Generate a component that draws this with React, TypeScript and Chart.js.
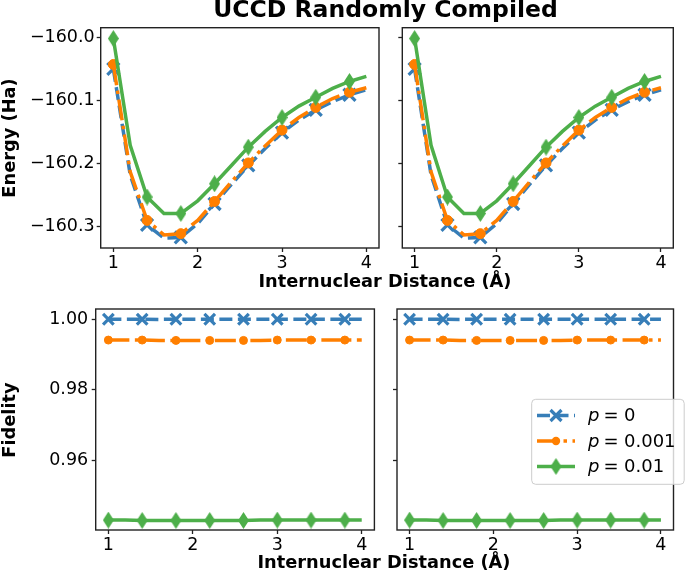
import React, { useEffect, useRef } from "react";
import { Chart, registerables } from "chart.js";

Chart.register(...registerables);
Chart.defaults.font.family = '"DejaVu Sans", sans-serif';
Chart.defaults.color = "#000";

// ---------------- data ----------------
const distances = [1.0, 1.2, 1.4, 1.6, 1.8, 2.0, 2.2, 2.4, 2.6, 2.8, 3.0, 3.2, 3.4, 3.6, 3.8, 4.0];

const energyP0 = [-160.05, -160.218, -160.297, -160.318, -160.317, -160.295, -160.264, -160.233, -160.203, -160.176, -160.151, -160.131, -160.115, -160.102, -160.091, -160.083];
const energyP001 = [-160.043, -160.213, -160.29, -160.313, -160.311, -160.29, -160.26, -160.229, -160.199, -160.172, -160.147, -160.127, -160.111, -160.097, -160.087, -160.08];
const energyP01 = [-160.002, -160.171, -160.253, -160.279, -160.279, -160.259, -160.232, -160.203, -160.174, -160.149, -160.127, -160.109, -160.095, -160.081, -160.07, -160.062];

const fidelityP0 = [1.0, 1.0, 1.0, 0.99995, 1.0, 1.0, 1.0, 1.0, 1.0, 1.0, 1.0, 1.0, 1.0, 1.0, 1.0, 1.0];
const fidelityP001 = [0.9941, 0.9941, 0.9941, 0.994, 0.994, 0.994, 0.994, 0.994, 0.994, 0.994, 0.9941, 0.9941, 0.9941, 0.9941, 0.9941, 0.9941];
const fidelityP01 = [0.9431, 0.9431, 0.943, 0.943, 0.943, 0.943, 0.943, 0.943, 0.943, 0.9431, 0.9431, 0.9431, 0.9431, 0.9431, 0.9431, 0.9431];

const seriesLabels = ["p = 0", "p = 0.001", "p = 0.01"];
const xTicks = [1, 2, 3, 4];
const energyTicks = [-160.3, -160.2, -160.1, -160.0];
const fidelityTicks = [0.96, 0.98, 1.0];

const titleText = "UCCD Randomly Compiled";
const xAxisTitle = "Internuclear Distance (Å)";
const energyAxisTitle = "Energy (Ha)";
const fidelityAxisTitle = "Fidelity";

// ---------------- styles ----------------
const W = 685;
const H = 573;
const BLUE = "#377eb8";
const ORANGE = "#ff7f00";
const GREEN = "#4daf4a";
const SPINE = "#222";
const FONT = '"DejaVu Sans", sans-serif';
const TICK_FONT_SIZE = 17.5;

type Rect = { l: number; t: number; r: number; b: number };

function makeDiamond(w: number, h: number, color: string) {
  const c = document.createElement("canvas");
  c.width = w;
  c.height = h;
  const g = c.getContext("2d")!;
  g.fillStyle = color;
  g.beginPath();
  g.moveTo(w / 2, 0);
  g.lineTo(w, h / 2);
  g.lineTo(w / 2, h);
  g.lineTo(0, h / 2);
  g.closePath();
  g.fill();
  return c;
}

const DASH_BLUE = [13, 5.5];
const DASH_ORANGE = [21, 5.5, 3.5, 5.5];

function makeDatasets(values: number[][], big: boolean) {
  const diamond = makeDiamond(11, 17, GREEN);
  const every = (r: number) => (c: any) => (c.dataIndex % 2 === 0 ? r : 0);
  return [
    {
      label: seriesLabels[0],
      data: distances.map((x, i) => ({ x, y: values[0][i] })),
      borderColor: BLUE,
      backgroundColor: BLUE,
      borderWidth: 3.5,
      borderDash: DASH_BLUE,
      pointStyle: "crossRot",
      pointRadius: every(big ? 8.5 : 7.5),
      pointBorderColor: BLUE,
      pointBackgroundColor: BLUE,
      pointBorderWidth: 3.2,
      tension: 0,
      order: 2,
    },
    {
      label: seriesLabels[1],
      data: distances.map((x, i) => ({ x, y: values[1][i] })),
      borderColor: ORANGE,
      backgroundColor: ORANGE,
      borderWidth: 3.5,
      borderDash: DASH_ORANGE,
      pointStyle: "circle",
      pointRadius: every(big ? 5 : 4),
      pointBorderColor: ORANGE,
      pointBackgroundColor: ORANGE,
      pointBorderWidth: 1,
      tension: 0,
      order: 1,
    },
    {
      label: seriesLabels[2],
      data: distances.map((x, i) => ({ x, y: values[2][i] })),
      borderColor: GREEN,
      backgroundColor: GREEN,
      borderWidth: 3.5,
      borderDash: [],
      pointStyle: diamond,
      pointRadius: every(8),
      pointBorderColor: GREEN,
      pointBackgroundColor: GREEN,
      tension: 0,
      order: 0,
    },
  ];
}

const boxPlugin = {
  id: "boxSpines",
  afterDatasetsDraw(chart: any) {
    const { ctx, chartArea } = chart;
    const { left, top, right, bottom } = chartArea;
    ctx.save();
    ctx.strokeStyle = SPINE;
    ctx.lineWidth = 1.4;
    ctx.strokeRect(left, top, right - left, bottom - top);
    ctx.restore();
  },
};

const legendPlugin = {
  id: "mplLegend",
  afterDraw(chart: any) {
    const ctx: CanvasRenderingContext2D = chart.ctx;
    const bx = 531.7, by = 399.3, bw = 152.5, bh = 85, rad = 4;
    ctx.save();
    ctx.beginPath();
    ctx.moveTo(bx + rad, by);
    ctx.lineTo(bx + bw - rad, by);
    ctx.quadraticCurveTo(bx + bw, by, bx + bw, by + rad);
    ctx.lineTo(bx + bw, by + bh - rad);
    ctx.quadraticCurveTo(bx + bw, by + bh, bx + bw - rad, by + bh);
    ctx.lineTo(bx + rad, by + bh);
    ctx.quadraticCurveTo(bx, by + bh, bx, by + bh - rad);
    ctx.lineTo(bx, by + rad);
    ctx.quadraticCurveTo(bx, by, bx + rad, by);
    ctx.closePath();
    ctx.fillStyle = "rgba(255,255,255,0.8)";
    ctx.fill();
    ctx.strokeStyle = "#cccccc";
    ctx.lineWidth = 1;
    ctx.stroke();

    const rows = [415.5, 441, 466.5];
    const x0 = 537, x1 = 575, xm = 556;
    const colors = [BLUE, ORANGE, GREEN];
    const dashes = [DASH_BLUE, DASH_ORANGE, []];
    const diamond = makeDiamond(11, 17, GREEN);
    rows.forEach((y, i) => {
      ctx.save();
      ctx.strokeStyle = colors[i];
      ctx.lineWidth = 3.5;
      ctx.setLineDash(dashes[i]);
      ctx.beginPath();
      ctx.moveTo(x0, y);
      ctx.lineTo(x1, y);
      ctx.stroke();
      ctx.setLineDash([]);
      if (i === 0) {
        const d = 5.5;
        ctx.lineWidth = 3.2;
        ctx.beginPath();
        ctx.moveTo(xm - d, y - d);
        ctx.lineTo(xm + d, y + d);
        ctx.moveTo(xm - d, y + d);
        ctx.lineTo(xm + d, y - d);
        ctx.stroke();
      } else if (i === 1) {
        ctx.fillStyle = ORANGE;
        ctx.beginPath();
        ctx.arc(xm, y, 4.2, 0, Math.PI * 2);
        ctx.fill();
      } else {
        ctx.drawImage(diamond, xm - diamond.width / 2, y - diamond.height / 2);
      }
      ctx.restore();

      // label with italic p
      const label = seriesLabels[i];
      const parts = label.split(" = ");
      ctx.save();
      ctx.fillStyle = "#000";
      ctx.textBaseline = "middle";
      let tx = 588;
      ctx.font = `italic ${TICK_FONT_SIZE + 0.5}px ${FONT}`;
      ctx.fillText(parts[0], tx, y + 1);
      tx += ctx.measureText(parts[0]).width + 4;
      ctx.font = `${TICK_FONT_SIZE + 0.5}px ${FONT}`;
      ctx.fillText("=", tx, y + 1);
      tx += ctx.measureText("=").width + 5.5;
      ctx.fillText(parts[1], tx, y + 1);
      ctx.restore();
    });
    ctx.restore();
  },
};

type PanelProps = {
  rect: Rect;
  kind: "energy" | "fidelity";
  showYLabels: boolean;
  legend: boolean;
  yPad: number;
};

function Panel({ rect, kind, showYLabels, legend, yPad }: PanelProps) {
  const ref = useRef<HTMLCanvasElement | null>(null);
  useEffect(() => {
    if (!ref.current) return;
    const energy = kind === "energy";
    const values = energy ? [energyP0, energyP001, energyP01] : [fidelityP0, fidelityP001, fidelityP01];
    const yTicks = energy ? energyTicks : fidelityTicks;
    const yMin = energy ? -160.3337 : 0.9403;
    const yMax = energy ? -159.9848 : 1.0029;
    const xAxisHeight = 30;
    const chart = new Chart(ref.current, {
      type: "line",
      data: { datasets: makeDatasets(values, energy) as any },
      options: {
        animation: false,
        responsive: false,
        devicePixelRatio: 1,
        events: [],
        layout: {
          padding: {
            left: 0,
            top: rect.t,
            right: W - rect.r,
            bottom: H - rect.b - xAxisHeight,
          },
        },
        plugins: {
          legend: { display: false },
          tooltip: { enabled: false },
          title: { display: false },
        },
        scales: {
          x: {
            type: "linear",
            min: 0.85,
            max: 4.15,
            afterBuildTicks: (s: any) => {
              s.ticks = xTicks.map((v) => ({ value: v }));
            },
            afterFit: (s: any) => {
              s.height = xAxisHeight;
            },
            border: { display: false },
            grid: {
              drawOnChartArea: false,
              drawTicks: true,
              tickLength: 4,
              tickColor: SPINE,
              tickWidth: 1.3,
            },
            ticks: {
              padding: 1,
              maxRotation: 0,
              autoSkip: false,
              color: "#000",
              font: { size: TICK_FONT_SIZE, family: FONT },
              callback: (v: any) => String(v),
            },
          },
          y: {
            type: "linear",
            min: yMin,
            max: yMax,
            afterBuildTicks: (s: any) => {
              s.ticks = yTicks.map((v) => ({ value: v }));
            },
            afterFit: (s: any) => {
              s.width = rect.l;
            },
            border: { display: false },
            grid: {
              drawOnChartArea: false,
              drawTicks: true,
              tickLength: 4,
              tickColor: SPINE,
              tickWidth: 1.3,
            },
            ticks: {
              display: showYLabels,
              padding: yPad,
              autoSkip: false,
              color: "#000",
              font: { size: TICK_FONT_SIZE, family: FONT },
              callback: (v: any) => {
                const n = Number(v);
                if (energy) return (n < 0 ? "\u2212" : "") + Math.abs(n).toFixed(1);
                return n.toFixed(2);
              },
            },
          },
        },
      } as any,
      plugins: legend ? [boxPlugin, legendPlugin] : [boxPlugin],
    });
    return () => chart.destroy();
  }, [rect, kind, showYLabels, legend, yPad]);
  return (
    <canvas
      ref={ref}
      width={W}
      height={H}
      style={{ position: "absolute", left: 0, top: 0, width: W, height: H }}
    />
  );
}

const panels: PanelProps[] = [
  { rect: { l: 100.7, t: 27.7, r: 379, b: 248 }, kind: "energy", showYLabels: true, legend: false, yPad: 2 },
  { rect: { l: 402.3, t: 27.7, r: 681, b: 248 }, kind: "energy", showYLabels: false, legend: false, yPad: 2 },
  { rect: { l: 95.7, t: 309, r: 374.4, b: 530 }, kind: "fidelity", showYLabels: true, legend: false, yPad: 3.5 },
  { rect: { l: 397, t: 309, r: 675.5, b: 530 }, kind: "fidelity", showYLabels: false, legend: true, yPad: 3.5 },
];

function Label({ text, cx, cy, size, rotate }: { text: string; cx: number; cy: number; size: number; rotate?: boolean }) {
  return (
    <div
      style={{
        position: "absolute",
        left: cx,
        top: cy,
        transform: `translate(-50%, -50%)${rotate ? " rotate(-90deg)" : ""}`,
        fontFamily: FONT,
        fontWeight: "bold",
        fontSize: size,
        lineHeight: 1,
        whiteSpace: "nowrap",
        color: "#000",
      }}
    >
      {text}
    </div>
  );
}

export default function App() {
  return (
    <div
      style={{
        position: "absolute",
        left: 0,
        top: 0,
        width: W,
        height: H,
        background: "#fff",
        overflow: "hidden",
      }}
    >
      {panels.map((p, i) => (
        <Panel key={i} {...p} />
      ))}
      <Label text={titleText} cx={385.5} cy={10} size={23.5} />
      <Label text={xAxisTitle} cx={385} cy={280.5} size={17.8} />
      <Label text={xAxisTitle} cx={384} cy={561.5} size={17.8} />
      <Label text={energyAxisTitle} cx={9} cy={138} size={17.8} rotate />
      <Label text={fidelityAxisTitle} cx={9} cy={419.5} size={17.8} rotate />
    </div>
  );
}
